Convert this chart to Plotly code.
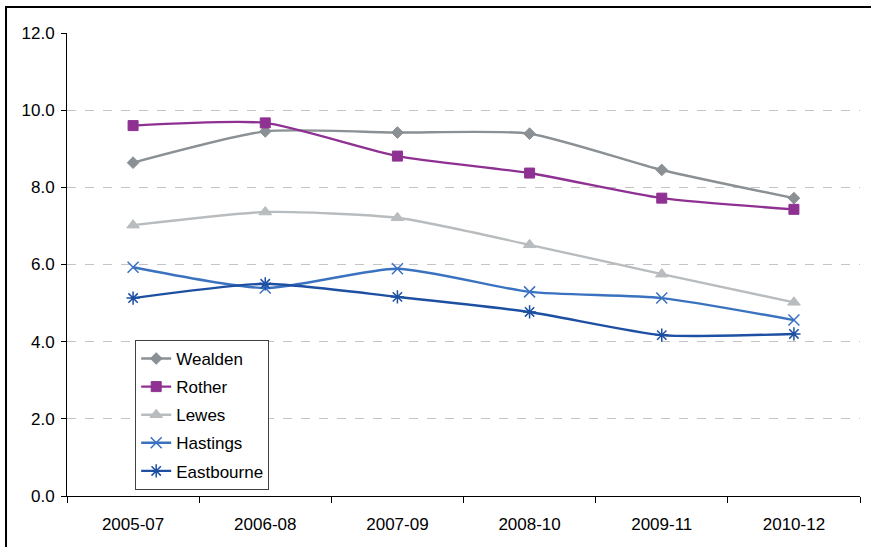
import plotly.graph_objects as go

periods = ["2005-07", "2006-08", "2007-09", "2008-10", "2009-11", "2010-12"]

wealden = [8.64, 9.45, 9.42, 9.39, 8.45, 7.72]
rother = [9.60, 9.67, 8.81, 8.37, 7.72, 7.43]
lewes = [7.02, 7.36, 7.21, 6.51, 5.75, 5.02]
hastings = [5.93, 5.39, 5.89, 5.29, 5.13, 4.56]
eastbourne = [5.13, 5.50, 5.16, 4.77, 4.17, 4.20]

series = [
    ("Wealden", wealden, "#8a9094", "diamond", 9, 1),
    ("Rother", rother, "#8e3192", "square", 10, 1),
    ("Lewes", lewes, "#b8bcbe", "triangle-up", 11, 1),
    ("Hastings", hastings, "#3a72c0", "x-thin-open", 11, 1.5),
    ("Eastbourne", eastbourne, "#1d4fa2", "asterisk-open", 11, 1.5),
]

fig = go.Figure()
for i, (name, vals, color, symbol, size, mlw) in enumerate(series):
    fig.add_trace(go.Scatter(
        x=periods, y=vals, name=name, mode="lines+markers",
        line=dict(color=color, width=2.4, shape="spline", smoothing=0.6),
        marker=dict(symbol=symbol, size=size, color=color,
                    line=dict(color=color, width=mlw)),
        legendgroup=f"g{i}",
    ))

fig.update_layout(
    width=871, height=547,
    margin=dict(l=67, r=11, t=33, b=51),
    paper_bgcolor="white", plot_bgcolor="white",
    font=dict(family="Liberation Sans, Arial, sans-serif", size=17, color="#000000"),
    showlegend=True,
    legend=dict(
        x=0.086, y=0.337, xanchor="left", yanchor="top",
        bgcolor="white", bordercolor="#404040", borderwidth=1,
        font=dict(size=17), tracegroupgap=3, traceorder="grouped",
        itemwidth=30,
    ),
    xaxis=dict(
        type="category",
        showgrid=False, showline=True, linecolor="#000000", linewidth=1,
        ticks="outside", ticklen=6, tickcolor="#000000",
        tickson="boundaries", range=[-0.5, 5.5], ticklabelstandoff=13,
    ),
    yaxis=dict(
        range=[0, 12], dtick=2, tickformat=".1f",
        showgrid=True, gridcolor="#c4c4c4", griddash="dash", gridwidth=1,
        showline=True, linecolor="#000000", linewidth=1,
        ticks="outside", ticklen=5, tickcolor="#000000",
        zeroline=False, ticklabelstandoff=3,
    ),
    shapes=[dict(
        type="rect", xref="paper", yref="paper",
        x0=-0.0769, x1=1.2, y0=-0.3, y1=1.056,
        line=dict(color="#000000", width=2), fillcolor="rgba(0,0,0,0)",
        layer="below",
    )],
)

fig.write_html("out.html")
